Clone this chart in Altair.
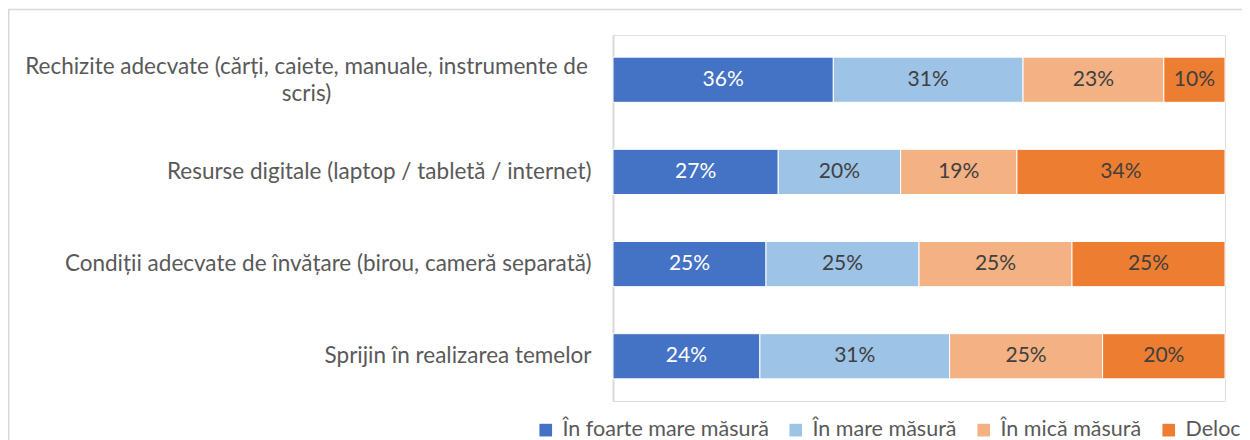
import altair as alt
import pandas as pd

categories = [
    "Rechizite adecvate (cărți, caiete, manuale, instrumente de|scris)",
    "Resurse digitale (laptop / tabletă / internet)",
    "Condiții adecvate de învățare (birou, cameră separată)",
    "Sprijin în realizarea temelor",
]
series = ["În foarte mare măsură", "În mare măsură", "În mică măsură", "Deloc"]
foarte_mare = [36, 27, 25, 24]
mare = [31, 20, 25, 31]
mica = [23, 19, 25, 25]
deloc = [10, 34, 25, 20]
colors = ["#4472C4", "#9DC3E6", "#F4B183", "#ED7D31"]

rows = []
for vals, s_i in zip([foarte_mare, mare, mica, deloc], range(4)):
    for c, v in zip(categories, vals):
        rows.append({"cat": c, "series": series[s_i], "order": s_i, "value": v})
df = pd.DataFrame(rows)

FONT = "Lato"
base = alt.Chart(df).transform_stack(
    stack="value", groupby=["cat"], as_=["v0", "v1"],
    sort=[alt.SortField("order", order="ascending")],
).transform_calculate(mid="(datum.v0 + datum.v1) / 2")

wrapped = "indexof(datum.value, '|') >= 0"
yenc = alt.Y(
    "cat:N", sort=categories, title=None,
    scale=alt.Scale(paddingInner=0.51, paddingOuter=0.24),
    axis=alt.Axis(
        labelExpr="split(datum.label, '|')", labelFont=FONT, labelFontSize=22.5,
        labelColor="#595959", labelLimit=0, labelLineHeight=27,
        labelAlign={"condition": {"test": wrapped, "value": "center"}, "value": "right"},
        labelPadding={"condition": {"test": wrapped, "value": 307}, "value": 22},
        labelOffset={"condition": {"test": wrapped, "value": -13}, "value": 0},
        ticks=False, domainColor="#D9D9D9", domainWidth=2, grid=False,
    ),
)
xscale = alt.Scale(domain=[0, 100], nice=False)

bars = base.mark_bar(stroke="white", strokeWidth=1).encode(
    y=yenc,
    x=alt.X("v0:Q", scale=xscale, axis=None),
    x2="v1:Q",
    color=alt.Color(
        "series:N", scale=alt.Scale(domain=series, range=colors), title=None,
        legend=alt.Legend(
            orient="none", direction="horizontal", legendX=-78, legendY=384,
            symbolType="square", symbolSize=160, symbolStrokeWidth=0,
            labelFont=FONT, labelFontSize=21.5, labelColor="#595959",
            labelOffset=6, columnPadding=16, labelLimit=0,
        ),
    ),
)

labels = base.mark_text(font=FONT, fontSize=21).encode(
    y=alt.Y("cat:N", sort=categories),
    x=alt.X("mid:Q", scale=xscale),
    text=alt.Text("label:N"),
    color=alt.condition(alt.datum.order == 0, alt.value("white"), alt.value("#404040")),
).transform_calculate(label="datum.value + '%'")

frame = alt.Chart(pd.DataFrame({"a": [0]})).mark_rect(
    fillOpacity=0, stroke="#D9D9D9", strokeWidth=1.5
).encode(
    x=alt.value(-604.25), x2=alt.value(800),
    y=alt.value(-25.5), y2=alt.value(600),
)

chart = alt.layer(frame, bars, labels).properties(
    width=612, height=366,
    padding={"left": 605, "top": 27, "right": 17, "bottom": 39},
    autosize=alt.AutoSizeParams(type="none"),
).configure_view(stroke=None).configure(background="white")

chart.save("out.html", embed_options={"renderer": "svg", "actions": False})
